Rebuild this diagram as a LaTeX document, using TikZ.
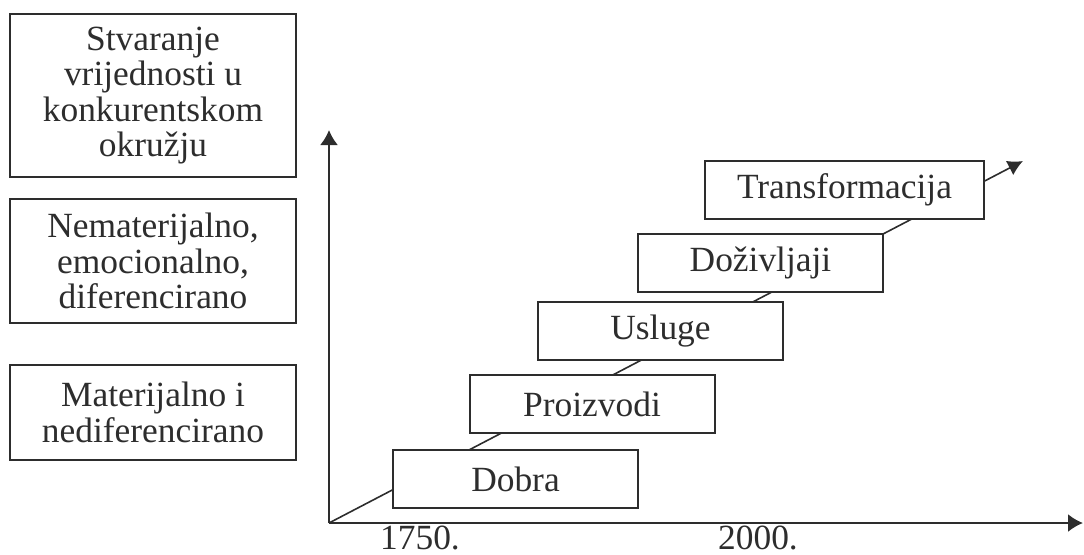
\documentclass[tikz,border=0pt]{standalone}
\usepackage{fontspec}
\setmainfont{Liberation Serif}
\usetikzlibrary{arrows.meta}
\definecolor{ln}{RGB}{45,45,45}
\begin{document}
\begin{tikzpicture}[x=0.5pt,y=-0.5pt,
  every node/.style={font=\fontsize{17.7}{17.8}\selectfont, text=ln},
  box/.style={draw=ln, line width=1pt, fill=white, inner sep=0pt, align=center},
  stair/.style={box, minimum width=122.5pt, minimum height=29pt},
  ax/.style={draw=ln, line width=1pt, -{Latex[length=7.5pt,width=9pt]}},
  diag/.style={draw=ln, line width=0.8pt, -{Latex[length=7.5pt,width=8pt]}},
  yr/.style={anchor=base, inner sep=0pt}
]
\useasboundingbox (0,0) rectangle (1084,554);
% left category boxes
\node[box, minimum width=143pt, minimum height=81.5pt] (c1) at (153,95.5)
  {Stvaranje\\vrijednosti u\\konkurentskom\\okružju};
\node[box, minimum width=143pt, minimum height=62pt] (c2) at (153,261)
  {Nematerijalno,\\emocionalno,\\diferencirano};
\node[box, minimum width=143pt, minimum height=47.5pt] (c3) at (153,412.5)
  {Materijalno i\\nediferencirano};
% axes
\coordinate (O) at (329,523);
\coordinate (Y) at (329,130);
\coordinate (X) at (1083,523);
\coordinate (T) at (1023,161);
\draw[ax] (O) -- (Y);
\draw[ax] (O) -- (X);
\draw[diag] (O) -- (T);
% staircase
\node[stair] (s1) at (515.5,479) {Dobra};
\node[stair] (s2) at (592,404) {Proizvodi};
\node[stair] (s3) at (660.5,331) {Usluge};
\node[stair] (s4) at (760.5,263) {Doživljaji};
\node[stair, minimum width=139.5pt] (s5) at (844.5,190) {Transformacija};
% years
\node[yr] (y1) at (420,549) {1750.};
\node[yr] (y2) at (758,549) {2000.};
\end{tikzpicture}
\end{document}
